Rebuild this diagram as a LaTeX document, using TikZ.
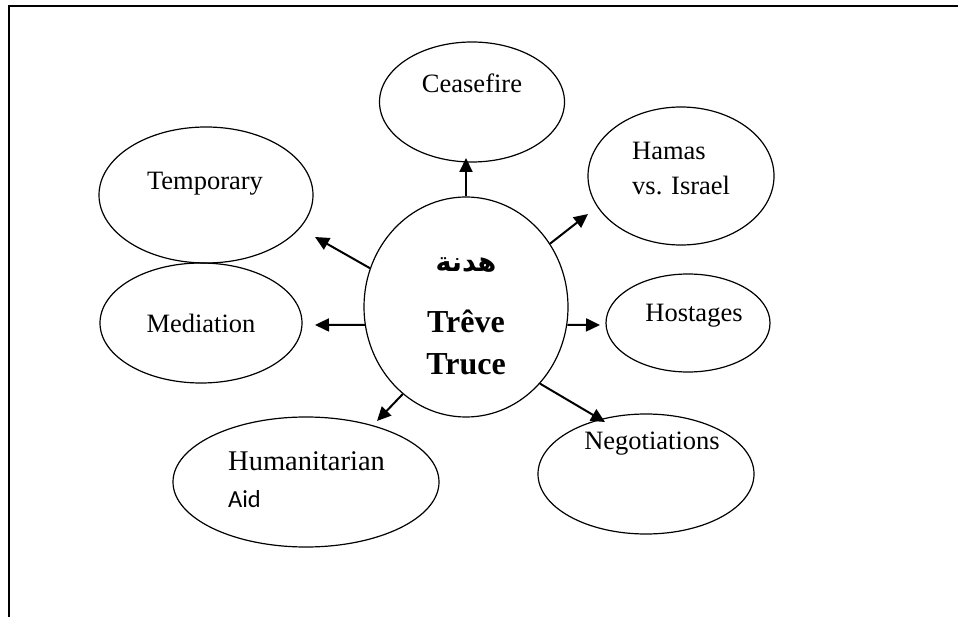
\documentclass[tikz,border=0pt]{standalone}
\usepackage{fontspec}
\setmainfont{Liberation Serif}
\newfontfamily\arabicfont[Script=Arabic]{DejaVu Sans}
\newfontfamily\calfont{Carlito}
\TeXXeTstate=1
\usetikzlibrary{shapes.geometric,arrows.meta}
\tikzset{
  ell/.style={draw, ellipse, line width=1.2pt, inner sep=0pt},
  lbl/.style={inner sep=0pt, anchor=base, font=\fontsize{26.5}{32}\selectfont},
  lbll/.style={inner sep=0pt, anchor=base west, font=\fontsize{26.5}{32}\selectfont},
  big/.style={inner sep=0pt, anchor=base, font=\fontsize{32}{38}\selectfont\bfseries},
  arr/.style={line width=2pt, -{Triangle[length=14pt,width=13pt]}},
  frame/.style={line width=2pt}
}
\begin{document}
\begin{tikzpicture}[x=1pt,y=-1pt]
\useasboundingbox (0,0) rectangle (958,617);
% frame
\coordinate (fA) at (9,617);
\coordinate (fB) at (9,6);
\coordinate (fC) at (958,6);
\draw[frame] (fA) -- (fB) -- (fC);
% ellipses
\node[ell, minimum width=204, minimum height=220] (c) at (466,307) {};
\node[ell, minimum width=185, minimum height=120] (cease) at (472,102) {};
\node[ell, minimum width=186, minimum height=138] (hamas) at (681,176) {};
\node[ell, minimum width=214, minimum height=136] (temp) at (206,195) {};
\node[ell, minimum width=202, minimum height=120] (med) at (201,323) {};
\node[ell, minimum width=164, minimum height=98] (host) at (688,323) {};
\node[ell, minimum width=216, minimum height=120] (nego) at (646,474) {};
\node[ell, minimum width=266, minimum height=130] (hum) at (306,482) {};
% texts
\node[inner sep=0pt, font=\arabicfont\bfseries\fontsize{27}{30}\selectfont] (tar) at (466,265) {\beginR هدنة\endR};
\node[big] (ttreve) at (466,333) {Trêve};
\node[big] (ttruce) at (466,374) {Truce};
\node[lbl] (tcease) at (472,93) {Ceasefire};
\node[lbll] (thamas1) at (632,160) {Hamas};
\node[lbll] (thamas2) at (632,195) {vs. Israel};
\node[lbl] (ttemp) at (205,190) {Temporary};
\node[lbl] (tmed) at (201,333) {Mediation};
\node[lbl] (thost) at (694,322) {Hostages};
\node[lbl] (tnego) at (652,449) {Negotiations};
\node[lbll, font=\fontsize{28.5}{34}\selectfont] (thum1) at (228,470) {Humanitarian};
\node[inner sep=0pt, anchor=base west, font=\calfont\fontsize{24.5}{30}\selectfont] (thum2) at (228,507) {Aid};
% arrow tips
\coordinate (pcease) at (466,158);
\coordinate (phamas) at (588,214);
\coordinate (phost) at (600,325);
\coordinate (pnego) at (605,422);
\coordinate (phum) at (377,421);
\coordinate (pmed) at (315,325);
\coordinate (ptemp) at (315,237);
% arrows
\draw[arr] (c.north) -- (pcease);
\draw[arr] (c.37.5) -- (phamas);
\draw[arr] (c.-10) -- (phost);
\draw[arr] (c.-46.5) -- (pnego);
\draw[arr] (c.-126) -- (phum);
\draw[arr] (c.190) -- (pmed);
\draw[arr] (c.158) -- (ptemp);
\end{tikzpicture}
\end{document}
